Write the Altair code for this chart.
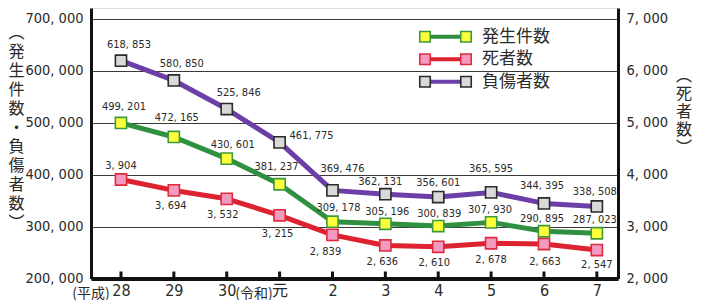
import altair as alt
import pandas as pd

# ---------------- data ----------------
years = ["28", "29", "30", "元", "2", "3", "4", "5", "6", "7"]
accidents = [499201, 472165, 430601, 381237, 309178, 305196, 300839, 307930, 290895, 287023]
injured = [618853, 580850, 525846, 461775, 369476, 362131, 356601, 365595, 344395, 338508]
deaths = [3904, 3694, 3532, 3215, 2839, 2636, 2610, 2678, 2663, 2547]
left_ticks = [200000, 300000, 400000, 500000, 600000, 700000]
right_ticks = [2000, 3000, 4000, 5000, 6000, 7000]
series_names = ["発生件数", "死者数", "負傷者数"]
era_notes = ["(平成)", "(令和)"]
left_title = "︵発生件数・負傷者数︶"
right_title = "︵死者数︶"

# ---------------- styles ----------------
NUM_FONT = "Liberation Sans Narrow, DejaVu Sans Condensed, Noto Sans CJK JP, sans-serif"
CJK_FONT = "Noto Sans CJK JP"
TXT = "#2a2a2a"
STY = {
    "発生件数": dict(line="#2f913f", fill="#ffff3c", stroke="#3c9a3c"),
    "死者数": dict(line="#dd2230", fill="#f39ac0", stroke="#e02a3c"),
    "負傷者数": dict(line="#6b3fa6", fill="#d9d9d9", stroke="#2a2a2a"),
}
# label offsets (dx, dy) per point
acc_off = [(3, -16), (3, -19), (6, -14), (-3, -17), (6, -14), (2, -12), (1, -12), (-1, -12), (-2, -12), (-2, -13)]
inj_off = [(8, -16), (8, -16), (12, -16), (32, -6), (10, -21), (-5, -12), (0, -14), (0, -23), (-2, -17), (-2, -14)]
dea_off = [(0, -13), (-3, 16), (-4, 16), (-2, 19), (-7, 17), (-3, 17), (-4, 16), (0, 17), (1, 18), (0, 15)]

W, H = 527, 270.5
TICK_FS = 14.5
LBL_FS = 11


def fmt(v):
    return f"{v:,}".replace(",", ", ")


df = pd.DataFrame({
    "idx": list(range(len(years))),
    "year": years,
    "acc": accidents,
    "inj": injured,
    "dea": deaths,
})
df["acc_lbl"] = [fmt(v) for v in accidents]
df["inj_lbl"] = [fmt(v) for v in injured]
df["dea_lbl"] = [fmt(v) for v in deaths]

label_array = "[" + ",".join(f"'{y}'" for y in years) + "]"
xaxis = alt.Axis(
    values=list(range(len(years))), labelExpr=f"{label_array}[datum.value]",
    ticks=False, grid=False, domainColor="#111", domainWidth=4,
    labelFont=NUM_FONT, labelFontSize=16, labelColor=TXT, labelPadding=4, title=None,
)
xscale = alt.Scale(domain=[-0.567, 9.40], nice=False, zero=False)
x_enc = alt.X("idx:Q", scale=xscale, axis=xaxis)

num_label_expr = "replace(format(datum.value, ','), ',', ', ')"
laxis = alt.Axis(
    values=left_ticks, labelExpr=num_label_expr, ticks=False, grid=True,
    gridColor="#3a3a3a", gridWidth=1, domainColor="#111", domainWidth=3,
    labelFont=NUM_FONT, labelFontSize=TICK_FS, labelColor=TXT, labelPadding=8, title=None,
)
raxis = alt.Axis(
    values=right_ticks, labelExpr=num_label_expr, ticks=False, grid=False,
    domainColor="#111", domainWidth=3, orient="right",
    labelFont=NUM_FONT, labelFontSize=TICK_FS, labelColor=TXT, labelPadding=8, title=None,
)
lscale = alt.Scale(domain=[200000, 720200], nice=False, zero=False)
rscale = alt.Scale(domain=[2000, 7202], nice=False, zero=False)

base = alt.Chart(df)


def series_layers(field, name, scale, axis, offs):
    s = STY[name]
    y_enc = alt.Y(f"{field}:Q", scale=scale, axis=axis)
    layers = [
        base.mark_line(color=s["line"], strokeWidth=5, strokeJoin="round").encode(x=x_enc, y=y_enc),
        base.mark_square(size=125, fill=s["fill"], stroke=s["stroke"], strokeWidth=1.6, opacity=1).encode(x=x_enc, y=y_enc),
    ]
    for i, (dx, dy) in enumerate(offs):
        layers.append(
            base.transform_filter(f"datum.idx == {i}").mark_text(
                font=NUM_FONT, fontSize=LBL_FS, color=TXT, dx=dx, dy=dy, baseline="middle", align="center"
            ).encode(x=x_enc, y=y_enc, text=f"{field}_lbl:N")
        )
    return layers


# inner ticks on the bottom axis
inner_ticks = base.mark_rule(color="#111", strokeWidth=3).encode(
    x=x_enc, y=alt.value(H - 1.5), y2=alt.value(H - 7)
)

left_layers = [inner_ticks]
left_layers += series_layers("acc", "発生件数", lscale, laxis, acc_off)
left_layers += series_layers("inj", "負傷者数", lscale, laxis, inj_off)

# legend (manual)
leg_rows = [("発生件数", 28.7), ("死者数", 51.3), ("負傷者数", 73.7)]
leg_df = pd.DataFrame({"name": series_names})
for name, yy in leg_rows:
    s = STY[name]
    ld = alt.Chart(leg_df).transform_filter(f"datum.name == '{name}'")
    left_layers.append(ld.mark_rule(color=s["line"], strokeWidth=4).encode(
        x=alt.value(334), x2=alt.value(375), y=alt.value(yy)))
    for xx in (334, 375):
        left_layers.append(ld.mark_square(size=110, fill=s["fill"], stroke=s["stroke"], strokeWidth=1.6, opacity=1).encode(
            x=alt.value(xx), y=alt.value(yy)))
    left_layers.append(ld.mark_text(font=CJK_FONT, fontSize=17, color=TXT, align="left", baseline="middle").encode(
        x=alt.value(391), y=alt.value(yy), text="name:N"))

# vertical axis titles
title_df = pd.DataFrame({"t": [left_title, right_title]})
left_layers.append(
    alt.Chart(title_df).transform_filter(f"datum.t == '{left_title}'").transform_calculate(
        tt="join(split(datum.t, ''), '\\n')"
    ).mark_text(font=CJK_FONT, fontSize=16, lineHeight=19, lineBreak="\n", color=TXT,
                align="center", baseline="top").encode(x=alt.value(-74.5), y=alt.value(17), text="tt:N")
)
left_layers.append(
    alt.Chart(title_df).transform_filter(f"datum.t == '{right_title}'").transform_calculate(
        tt="join(split(datum.t, ''), '\\n')"
    ).mark_text(font=CJK_FONT, fontSize=16, lineHeight=18, lineBreak="\n", color=TXT,
                align="center", baseline="top").encode(x=alt.value(593), y=alt.value(60), text="tt:N")
)

# era annotations next to x labels
era_df = pd.DataFrame({"e": era_notes})
for note, xx in zip(era_notes, (0, 163)):
    left_layers.append(
        alt.Chart(era_df).transform_filter(f"datum.e == '{note}'").mark_text(
            font=CJK_FONT, fontSize=14, color=TXT, align="center", baseline="middle"
        ).encode(x=alt.value(xx), y=alt.value(H + 15), text="e:N")
    )

right_layers = series_layers("dea", "死者数", rscale, raxis, dea_off)

chart = alt.layer(
    alt.layer(*left_layers),
    alt.layer(*right_layers),
).resolve_scale(y="independent").properties(
    width=W, height=H,
    autosize=alt.AutoSizeParams(type="none"),
    padding={"left": 83, "top": 0, "right": 83, "bottom": 21.5},
).configure_view(stroke=None).configure(background="white")

chart.save("out.html", embed_options={"renderer": "svg", "actions": False})
